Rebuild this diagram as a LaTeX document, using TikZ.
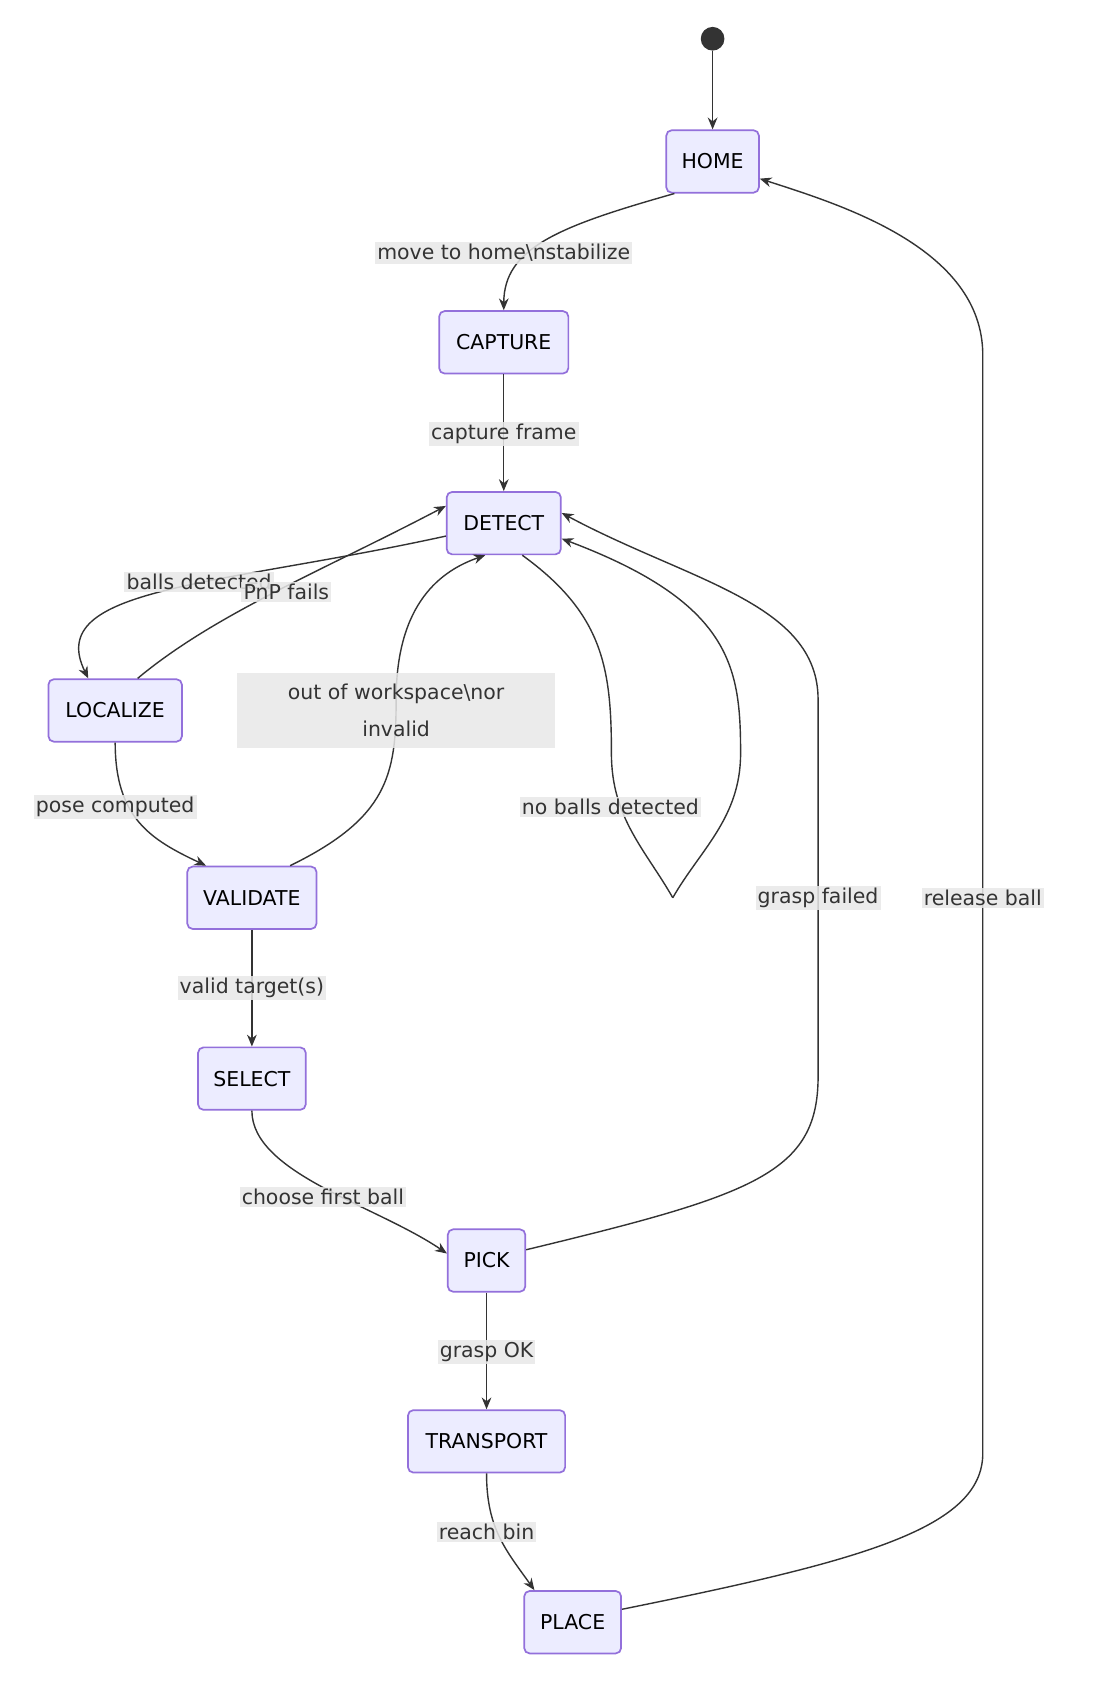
\documentclass[tikz,border=0pt]{standalone}
\usepackage{fontspec}
\setmainfont{DejaVu Sans}
\usetikzlibrary{arrows.meta}
\definecolor{nfill}{HTML}{ECECFF}
\definecolor{nborder}{HTML}{9370DB}
\definecolor{ln}{HTML}{333333}
\definecolor{lbl}{HTML}{E8E8E8}
\begin{document}
\begin{tikzpicture}[x=1pt,y=-1pt,
  st/.style={draw=nborder,fill=nfill,line width=1.6pt,rounded corners=5pt,minimum height=58pt,font=\fontsize{19}{22}\selectfont,text=black,inner sep=0pt},
  ed/.style={draw=ln,line width=1.3pt,-{Stealth[length=11pt,width=9pt]}},
  lb/.style={fill=lbl,fill opacity=0.85,text opacity=1,font=\fontsize{19}{22}\selectfont,text=ln,inner sep=2pt,align=center}]
\useasboundingbox (0,0) rectangle (1024,1583);
\fill[white] (0,0) rectangle (1024,1583);
\node[circle,fill=ln,minimum size=22pt,inner sep=0pt] (start) at (662,36) {};
\node[st,minimum width=86pt] (home) at (662,150) {HOME};
\node[st,minimum width=120pt] (capture) at (468,318) {CAPTURE};
\node[st,minimum width=106pt] (detect) at (468,486) {DETECT};
\node[st,minimum width=124pt] (localize) at (107,660) {LOCALIZE};
\node[st,minimum width=120pt] (validate) at (234,834) {VALIDATE};
\node[st,minimum width=100pt] (select) at (234,1002) {SELECT};
\node[st,minimum width=72pt] (pick) at (452,1171) {PICK};
\node[st,minimum width=146pt] (transport) at (452,1339) {TRANSPORT};
\node[st,minimum width=90pt] (place) at (532,1507) {PLACE};
\coordinate (loop) at (625,834);

\draw[ed] (start) -- (home);
\draw[ed] (home.220) .. controls (520,210) and (468,230) .. (capture.north);
\draw[ed] (capture) -- (detect);
\draw[ed] (detect.west) ++(0,12) .. controls (200,545) and (40,545) .. (localize.130);
\draw[ed] (localize.55) .. controls (200,570) and (300,530) .. ([yshift=16pt]detect.west);
\draw[ed] (localize.south) .. controls (107,760) and (140,780) .. (validate.145);
\draw[ed] (validate.40) .. controls (360,760) and (368,720) .. (368,650) .. controls (368,560) and (410,530) .. (detect.240);
\draw[ln,line width=1.3pt] (detect.300) .. controls (560,570) and (568,620) .. (568,700) .. controls (568,760) and (600,790) .. (loop);
\draw[ed] (loop) .. controls (650,790) and (688,760) .. (688,700) .. controls (688,620) and (680,560) .. (detect.345);
\draw[ed] (validate) -- (select);
\draw[ed] (pick.east) ++(0,-10) .. controls (700,1110) and (760,1090) .. (760,1000) -- (760,650) .. controls (760,560) and (640,540) .. (detect.10);
\draw[ed] (select.south) .. controls (234,1090) and (350,1120) .. (pick.170);
\draw[ed] (pick) -- (transport);
\draw[ed] (transport.south) .. controls (452,1420) and (470,1440) .. (place.140);
\draw[ed] (place.east) ++(0,-12) .. controls (800,1450) and (913,1420) .. (913,1350) -- (913,330) .. controls (913,230) and (780,190) .. (home.-20);

\node[lb] (l1) at (468,235) {move to home\textbackslash nstabilize};
\node[lb] (l2) at (468,403) {capture frame};
\node[lb] (l3) at (185,541) {balls detected};
\node[lb] (l4) at (266,550) {PnP fails};
\node[lb] (l5) at (107,750) {pose computed};
\node[lb,minimum width=295pt,minimum height=70pt,font=\fontsize{19}{35}\selectfont] (l6) at (368,660) {out of workspace\textbackslash nor\\invalid};
\node[lb] (l7) at (567,750) {no balls detected};
\node[lb] (l8) at (760,834) {grasp failed};
\node[lb] (l9) at (913,834) {release ball};
\node[lb] (l10) at (234,918) {valid target(s)};
\node[lb] (l11) at (300,1112) {choose first ball};
\node[lb] (l12) at (452,1256) {grasp OK};
\node[lb] (l13) at (452,1423) {reach bin};
\end{tikzpicture}
\end{document}
